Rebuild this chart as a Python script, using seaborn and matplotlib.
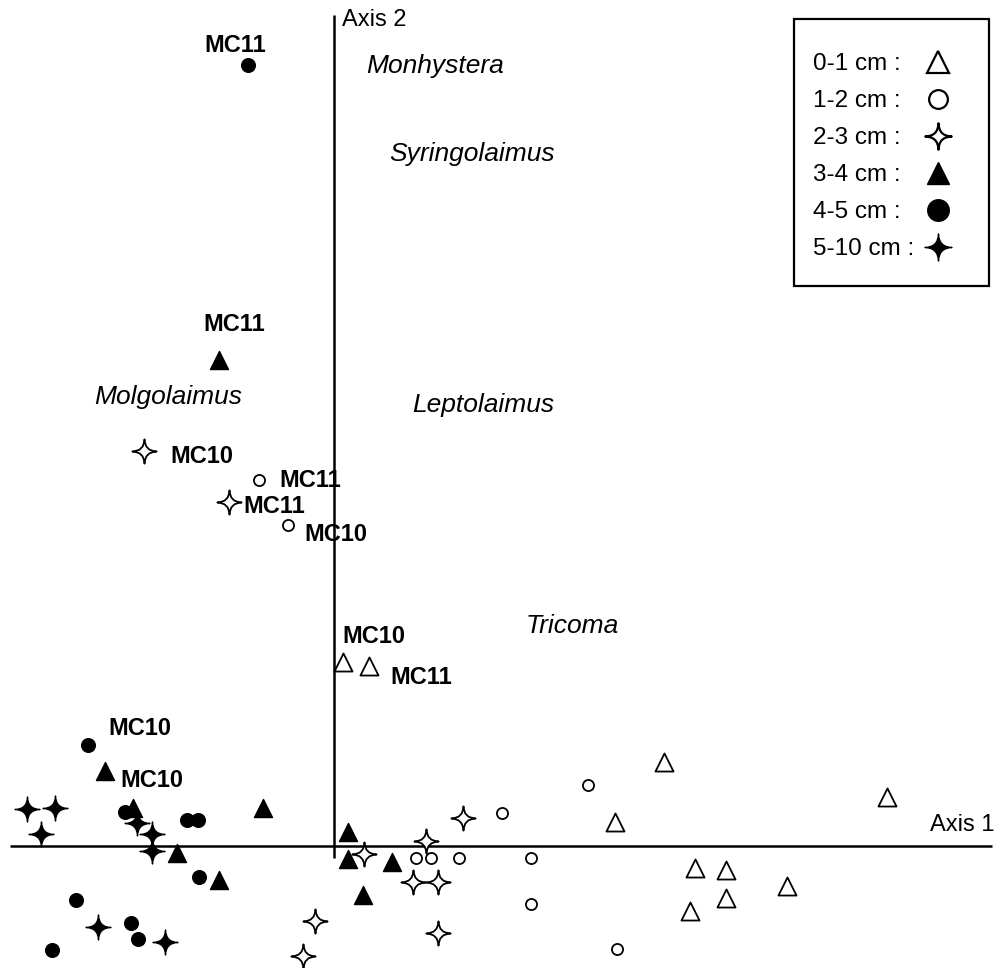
import numpy as np
import pandas as pd
import matplotlib
matplotlib.use("Agg")
import matplotlib.pyplot as plt
import seaborn as sns
from matplotlib.path import Path
from matplotlib.lines import Line2D
from matplotlib.patches import Rectangle

# ---------------- data (ordination scores) ----------------
depths = ["0-1 cm", "1-2 cm", "2-3 cm", "3-4 cm", "4-5 cm", "5-10 cm"]

x_0_1 = [0.09, 0.35, 3.30, 5.53, 2.81, 3.61, 3.92, 3.92, 4.53, 3.56]
y_0_1 = [1.84, 1.80, 0.84, 0.49, 0.24, -0.22, -0.24, -0.52, -0.40, -0.65]

x_1_2 = [-0.75, -0.46, 2.54, 1.68, 0.82, 0.97, 1.25, 1.97, 1.97, 2.83]
y_1_2 = [3.66, 3.21, 0.61, 0.33, -0.12, -0.12, -0.12, -0.12, -0.58, -1.03]

x_2_3 = [-1.90, -1.05, 1.29, 0.92, 0.30, 0.79, 1.04, 1.04, -0.19, -0.31]
y_2_3 = [3.95, 3.44, 0.28, 0.05, -0.08, -0.36, -0.36, -0.87, -0.75, -1.10]

x_3_4 = [-1.15, -2.29, -2.01, -0.71, -1.57, -1.15, 0.14, 0.14, 0.58, 0.29]
y_3_4 = [4.86, 0.75, 0.38, 0.38, -0.07, -0.34, 0.14, -0.13, -0.16, -0.49]

x_4_5 = [-0.86, -2.46, -2.09, -1.47, -1.36, -1.35, -2.58, -2.03, -1.96, -2.82]
y_4_5 = [7.81, 1.01, 0.34, 0.26, 0.26, -0.31, -0.54, -0.77, -0.93, -1.04]

x_5_10 = [-3.07, -2.79, -2.93, -1.97, -1.82, -1.82, -2.36, -1.69]
y_5_10 = [0.37, 0.38, 0.12, 0.23, 0.12, -0.05, -0.81, -0.96]

xs = [x_0_1, x_1_2, x_2_3, x_3_4, x_4_5, x_5_10]
ys = [y_0_1, y_1_2, y_2_3, y_3_4, y_4_5, y_5_10]

# station labels (text, x, y, horizontal alignment)
station_text = ["MC11", "MC11", "MC10", "MC11", "MC11", "MC10", "MC10", "MC11", "MC10", "MC10"]
station_x = [-0.99, -1.00, -1.64, -0.55, -0.91, -0.30, 0.08, 0.56, -2.26, -2.14]
station_y = [7.94, 5.15, 3.83, 3.59, 3.33, 3.05, 2.03, 1.62, 1.11, 0.59]
station_ha = ["center", "center", "left", "left", "left", "left", "left", "left", "left", "left"]

# species labels
species = ["Monhystera", "Syringolaimus", "Molgolaimus", "Leptolaimus", "Tricoma"]
species_x = [1.01, 1.38, -1.66, 1.49, 2.38]
species_y = [7.73, 6.85, 4.42, 4.34, 2.13]

rows = []
for d, xx, yy in zip(depths, xs, ys):
    for a, b in zip(xx, yy):
        rows.append({"depth": d, "axis1": a, "axis2": b})
df = pd.DataFrame(rows)

# ---------------- styling ----------------
sns.set_style("white")
plt.rcParams["font.family"] = ["Liberation Sans", "DejaVu Sans"]
plt.rcParams["text.color"] = "black"

c = 0.03
star = Path(
    [(0, 1), (c, c), (1, 0), (c, -c), (0, -1), (-c, -c), (-1, 0), (-c, c), (0, 1), (0, 1)],
    [Path.MOVETO, Path.CURVE3, Path.CURVE3, Path.CURVE3, Path.CURVE3,
     Path.CURVE3, Path.CURVE3, Path.CURVE3, Path.CURVE3, Path.CLOSEPOLY],
)

style = {
    "0-1 cm": dict(marker="^", face="white", ms=13.0, lw=1.3, lms=15.5),
    "1-2 cm": dict(marker="o", face="white", ms=8.0, lw=1.3, lms=13.5),
    "2-3 cm": dict(marker=star, face="white", ms=17.5, lw=1.3, lms=19),
    "3-4 cm": dict(marker="^", face="black", ms=13.0, lw=1.0, lms=15.5),
    "4-5 cm": dict(marker="o", face="black", ms=10.0, lw=0.8, lms=15.5),
    "5-10 cm": dict(marker=star, face="black", ms=18.0, lw=1.0, lms=19.5),
}

W, H = 996, 968
fig = plt.figure(figsize=(W / 100, H / 100), dpi=100)
fig.patch.set_facecolor("white")
ax = fig.add_axes([0, 0, 1, 1])

# axes cross
ax.vlines(0, -0.12, 8.31, color="black", lw=1.8, zorder=1)
ax.hlines(0, -3.24, 6.58, color="black", lw=1.8, zorder=1)

for d in depths:
    st = style[d]
    sub = df[df["depth"] == d]
    sns.scatterplot(data=sub, x="axis1", y="axis2", ax=ax, marker=st["marker"],
                    s=st["ms"] ** 2, color=st["face"], edgecolor="black",
                    linewidth=st["lw"], legend=False, zorder=3)

ax.set_xlim(-3.34, 6.62)
ax.set_ylim(-1.22, 8.46)
ax.set_axis_off()

for t, x, y, ha in zip(station_text, station_x, station_y, station_ha):
    ax.text(x, y, t, ha=ha, va="baseline", fontsize=17, fontweight="bold", zorder=4)

for t, x, y in zip(species, species_x, species_y):
    ax.text(x, y, t, ha="center", va="baseline", fontsize=19, style="italic", zorder=4)

ax.text(0.08, 8.20, "Axis 2", ha="left", va="baseline", fontsize=17)
ax.text(6.61, 0.15, "Axis 1", ha="right", va="baseline", fontsize=17)

# ---------------- legend ----------------
fs = 17.5
labels = [f"{d} :" for d in depths]
text_handles = [Line2D([], [], ls="none") for _ in depths]
mark_handles = [Line2D([], [], ls="none", marker=style[d]["marker"], markersize=style[d]["lms"],
                       markerfacecolor=style[d]["face"], markeredgecolor="black",
                       markeredgewidth=1.6 if style[d]["face"] == "white" else 1.0)
                for d in depths]

top = 1 - 53 / H
lsp = 0.62
leg1 = ax.legend(handles=text_handles, labels=labels, loc="upper left",
                 bbox_to_anchor=(813 / W, top), bbox_transform=fig.transFigure,
                 frameon=False, fontsize=fs, handlelength=0, handletextpad=0,
                 borderpad=0, borderaxespad=0, labelspacing=lsp)
ax.add_artist(leg1)
leg2 = ax.legend(handles=mark_handles, labels=[""] * len(depths), loc="upper left",
                 bbox_to_anchor=((938 - 0.5 * fs * 100 / 72) / W, top), bbox_transform=fig.transFigure,
                 frameon=False, fontsize=fs, handlelength=1, handletextpad=0,
                 borderpad=0, borderaxespad=0, labelspacing=lsp)

fig.patches.append(Rectangle((794 / W, 1 - 286 / H), 195 / W, 267 / H, transform=fig.transFigure,
                             fill=False, edgecolor="black", lw=1.6, figure=fig))

fig.savefig("out.png", dpi=100, facecolor="white")
